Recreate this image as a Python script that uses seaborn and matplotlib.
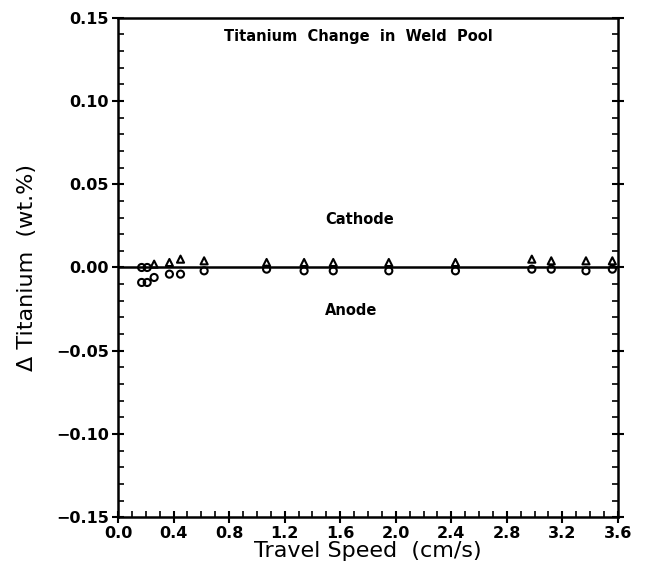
import matplotlib
matplotlib.use('Agg')
from matplotlib import pyplot as plt
from matplotlib.ticker import MultipleLocator
import pandas as pd
import seaborn as sns

# values
cathode_speed = [0.26, 0.37, 0.45, 0.62, 1.07, 1.34, 1.55, 1.95, 2.43, 2.98, 3.12, 3.37, 3.56]
cathode_dti = [0.002, 0.003, 0.005, 0.004, 0.003, 0.003, 0.003, 0.003, 0.003, 0.005, 0.004, 0.004, 0.004]
anode_speed = [0.17, 0.17, 0.21, 0.21, 0.26, 0.37, 0.45, 0.62, 1.07, 1.34, 1.55, 1.95, 2.43, 2.98, 3.12, 3.37, 3.56]
anode_dti = [0.0, -0.009, 0.0, -0.009, -0.006, -0.004, -0.004, -0.002, -0.001, -0.002, -0.002, -0.002, -0.002, -0.001, -0.001, -0.002, -0.001]

df_c = pd.DataFrame({'speed': cathode_speed, 'dti': cathode_dti})
df_a = pd.DataFrame({'speed': anode_speed, 'dti': anode_dti})

sns.set_style('ticks')
plt.rcParams['font.family'] = ['DejaVu Sans']
plt.rcParams['font.weight'] = 'bold'
plt.rcParams['text.color'] = 'black'
plt.rcParams['axes.labelcolor'] = 'black'
plt.rcParams['xtick.color'] = 'black'
plt.rcParams['ytick.color'] = 'black'
plt.rcParams['axes.edgecolor'] = 'black'

fig = plt.figure(figsize=(6.45, 5.74), dpi=100)
ax = fig.add_axes([0.183, 0.099, 0.775, 0.87])

ax.axhline(0, color='black', lw=1.8, zorder=1)
sns.scatterplot(data=df_c, x='speed', y='dti', marker='^', s=26, facecolors='none',
                edgecolors='black', linewidth=1.5, ax=ax, zorder=3)
sns.scatterplot(data=df_a, x='speed', y='dti', marker='o', s=26, facecolors='none',
                edgecolors='black', linewidth=1.5, ax=ax, zorder=3)

ax.set_xlim(0, 3.6)
ax.set_ylim(-0.15, 0.15)
ax.xaxis.set_major_locator(MultipleLocator(0.4))
ax.xaxis.set_minor_locator(MultipleLocator(0.1))
ax.yaxis.set_major_locator(MultipleLocator(0.05))
ax.yaxis.set_minor_locator(MultipleLocator(0.01))
ax.set_xticklabels([f'{v:.1f}' for v in ax.get_xticks()])
ax.set_yticklabels([f'{v:.2f}'.replace('-', '\u2212') for v in ax.get_yticks()])
ax.tick_params(which='major', direction='inout', length=9, width=1.5, labelsize=11.5,
               top=False, right=True, pad=2)
ax.tick_params(which='minor', direction='in', length=4, width=1.2, top=False, right=True)
for s in ax.spines.values():
    s.set_linewidth(1.8)
    s.set_visible(True)

ax.set_xlabel('Travel Speed  (cm/s)', fontsize=16, fontweight='normal', labelpad=0)
ax.set_ylabel('\u0394 Titanium  (wt.%)', fontsize=16, fontweight='normal', labelpad=14)

ax.text(1.73, 0.139, 'Titanium  Change  in  Weld  Pool', ha='center', va='center', fontsize=10.5)
ax.text(1.74, 0.029, 'Cathode', ha='center', va='center', fontsize=10.5)
ax.text(1.68, -0.026, 'Anode', ha='center', va='center', fontsize=10.5)

fig.savefig('out.png', dpi=100)
